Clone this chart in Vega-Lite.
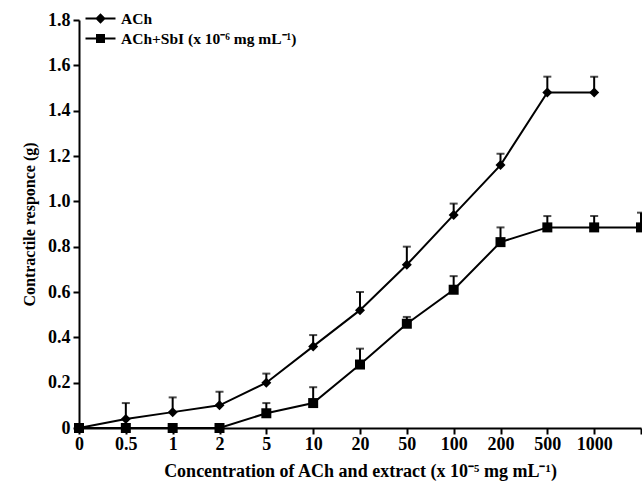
{
  "$schema": "https://vega.github.io/schema/vega-lite/v6.json",
  "width": 562,
  "height": 408,
  "autosize": {"type": "none"},
  "padding": {"left": 79, "top": 20, "right": 1, "bottom": 58},
  "background": "white",
  "config": {
    "view": {"stroke": null},
    "font": "Liberation Serif",
    "axis": {"domainColor": "black", "domainWidth": 2, "tickColor": "black", "tickWidth": 2, "tickSize": 6, "labelColor": "black", "titleColor": "black", "labelFont": "Liberation Serif", "titleFont": "Liberation Serif", "labelFontSize": 18, "labelFontWeight": "bold", "titleFontSize": 18, "titleFontWeight": "bold", "grid": false}
  },
  "data": {
    "values": [
      {"c": "0", "s": "ACh", "v": 0.0},
      {"c": "0.5", "s": "ACh", "v": 0.04, "u": 0.11},
      {"c": "1", "s": "ACh", "v": 0.07, "u": 0.135},
      {"c": "2", "s": "ACh", "v": 0.10, "u": 0.16},
      {"c": "5", "s": "ACh", "v": 0.20, "u": 0.24},
      {"c": "10", "s": "ACh", "v": 0.36, "u": 0.41},
      {"c": "20", "s": "ACh", "v": 0.52, "u": 0.60},
      {"c": "50", "s": "ACh", "v": 0.72, "u": 0.80},
      {"c": "100", "s": "ACh", "v": 0.94, "u": 0.99},
      {"c": "200", "s": "ACh", "v": 1.16, "u": 1.21},
      {"c": "500", "s": "ACh", "v": 1.48, "u": 1.55},
      {"c": "1000", "s": "ACh", "v": 1.48, "u": 1.55},
      {"c": "0", "s": "ACh+SbI (x 10⁻⁶ mg mL⁻¹)", "v": 0.0},
      {"c": "0.5", "s": "ACh+SbI (x 10⁻⁶ mg mL⁻¹)", "v": 0.0},
      {"c": "1", "s": "ACh+SbI (x 10⁻⁶ mg mL⁻¹)", "v": 0.0},
      {"c": "2", "s": "ACh+SbI (x 10⁻⁶ mg mL⁻¹)", "v": 0.0},
      {"c": "5", "s": "ACh+SbI (x 10⁻⁶ mg mL⁻¹)", "v": 0.065, "u": 0.11},
      {"c": "10", "s": "ACh+SbI (x 10⁻⁶ mg mL⁻¹)", "v": 0.11, "u": 0.18},
      {"c": "20", "s": "ACh+SbI (x 10⁻⁶ mg mL⁻¹)", "v": 0.28, "u": 0.35},
      {"c": "50", "s": "ACh+SbI (x 10⁻⁶ mg mL⁻¹)", "v": 0.46, "u": 0.49},
      {"c": "100", "s": "ACh+SbI (x 10⁻⁶ mg mL⁻¹)", "v": 0.61, "u": 0.67},
      {"c": "200", "s": "ACh+SbI (x 10⁻⁶ mg mL⁻¹)", "v": 0.82, "u": 0.885},
      {"c": "500", "s": "ACh+SbI (x 10⁻⁶ mg mL⁻¹)", "v": 0.885, "u": 0.935},
      {"c": "1000", "s": "ACh+SbI (x 10⁻⁶ mg mL⁻¹)", "v": 0.885, "u": 0.935},
      {"c": "end", "s": "ACh+SbI (x 10⁻⁶ mg mL⁻¹)", "v": 0.885, "u": 0.95}
    ]
  },
  "encoding": {
    "x": {
      "field": "c", "type": "ordinal",
      "scale": {"type": "point", "padding": 0, "domain": ["0", "0.5", "1", "2", "5", "10", "20", "50", "100", "200", "500", "1000", "end"]},
      "axis": {"title": "Concentration of ACh and extract (x 10⁻⁵ mg mL⁻¹)", "labelAngle": 0, "labelPadding": 1, "titlePadding": 9, "labelExpr": "datum.value == 'end' ? '' : datum.value"}
    },
    "y": {
      "field": "v", "type": "quantitative",
      "scale": {"domain": [0, 1.8], "nice": false},
      "axis": {"title": "Contractile responce (g)", "titleFontSize": 16, "values": [0, 0.2, 0.4, 0.6, 0.8, 1.0, 1.2, 1.4, 1.6, 1.8], "labelExpr": "datum.value == 0 ? '0' : format(datum.value, '.1f')", "titlePadding": 10, "labelPadding": 3}
    }
  },
  "resolve": {"scale": {"shape": "independent"}, "legend": {"shape": "independent"}},
  "layer": [
    {
      "transform": [{"filter": "isValid(datum.u)"}],
      "mark": {"type": "rule", "color": "black", "strokeWidth": 2},
      "encoding": {"y2": {"field": "u"}}
    },
    {
      "transform": [{"filter": "isValid(datum.u)"}],
      "mark": {"type": "tick", "color": "black", "thickness": 2, "size": 8, "orient": "horizontal"},
      "encoding": {"y": {"field": "u", "type": "quantitative"}}
    },
    {
      "mark": {"type": "line", "color": "black", "strokeWidth": 2},
      "encoding": {"detail": {"field": "s"}}
    },
    {
      "mark": {"type": "point", "filled": true, "color": "black", "size": 100, "opacity": 1},
      "encoding": {
        "shape": {
          "field": "s", "type": "nominal",
          "scale": {"domain": ["ACh", "ACh+SbI (x 10⁻⁶ mg mL⁻¹)"], "range": ["diamond", "square"]},
          "legend": null
        }
      }
    },
    {
      "transform": [{"filter": "false"}],
      "mark": {"type": "point", "filled": true, "color": "black", "size": 225, "opacity": 1},
      "encoding": {
        "shape": {
          "field": "s", "type": "nominal",
          "scale": {"domain": ["ACh", "ACh+SbI (x 10⁻⁶ mg mL⁻¹)"], "range": ["M-2,-0.13H2V0.13H-2Z M0,-0.7L0.7,0L0,0.7L-0.7,0Z", "M-2,-0.13H2V0.13H-2Z M-0.6,-0.6H0.6V0.6H-0.6Z"]},
          "legend": {
            "title": null,
            "orient": "none",
            "legendX": 13,
            "legendY": -10,
            "symbolSize": 225,
            "symbolFillColor": "black",
            "symbolOpacity": 1,
            "labelFont": "Liberation Serif",
            "labelFontSize": 15.5,
            "labelFontWeight": "bold",
            "labelColor": "black",
            "labelLimit": 400,
            "labelOffset": 12,
            "rowPadding": 3
          }
        }
      }
    }
  ]
}
